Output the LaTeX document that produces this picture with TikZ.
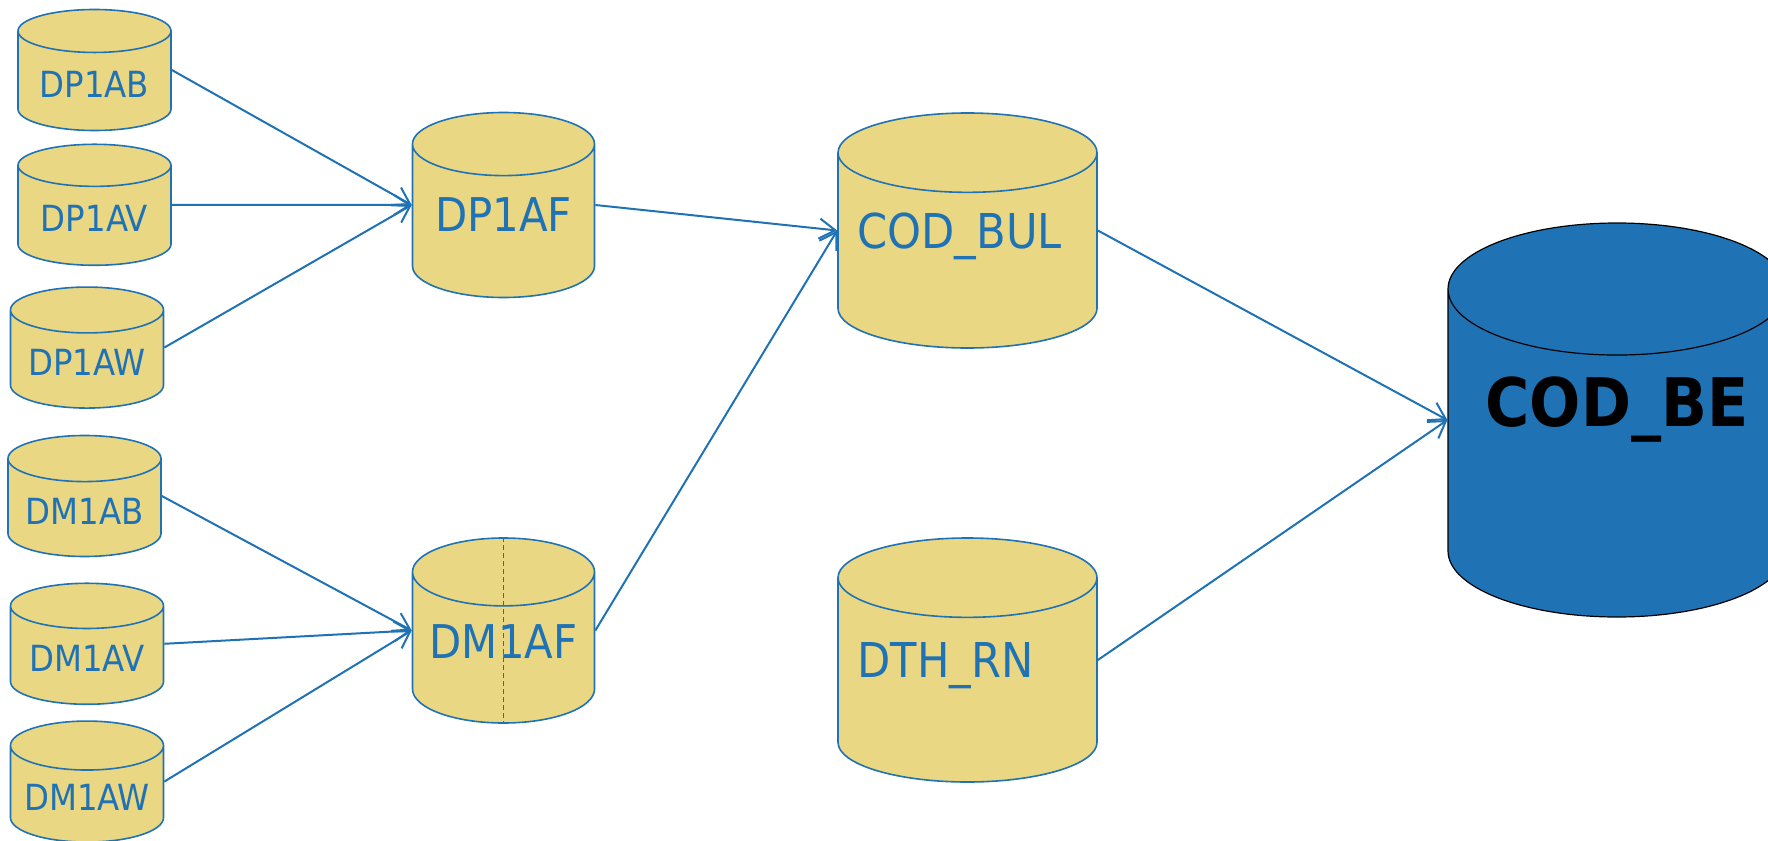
\documentclass[tikz,border=0pt]{standalone}
\usepackage{fontspec}
\setmainfont{DejaVu Sans Condensed}
\usetikzlibrary{arrows.meta, positioning, shapes.geometric}
\definecolor{dbfill}{RGB}{234,215,132}
\definecolor{dbblue}{RGB}{31,114,180}

\begin{document}
\begin{tikzpicture}[x=1pt, y=-1pt, >={Straight Barb[length=16pt,width=20pt]}, node distance=143pt]
  \useasboundingbox (0,0) rectangle (1768,840);

  % Define the style for the tables
  \tikzstyle{table}=[cylinder, shape border rotate=90, draw=dbblue, line width=1.6pt, fill=dbfill, text=dbblue]
  \tikzstyle{small}=[table, minimum width=153pt, minimum height=121pt, aspect=0.37, font=\fontsize{36}{40}\selectfont]
  \tikzstyle{mid}=[table, minimum width=182pt, minimum height=185pt, aspect=0.44, text depth=21pt, font=\fontsize{46.5}{52}\selectfont]
  \tikzstyle{large}=[table, minimum width=259pt, aspect=0.35, text width=220pt, align=left, text depth=50pt, font=\fontsize{48}{54}\selectfont]

  % Source tables
  \node[small, anchor=shape center] (dp1ab) at (94.5,70) {DP1AB};
  \node[small] (dp1av) [below of=dp1ab, yshift=8.5pt] {DP1AV};
  \node[small] (dp1aw) [below of=dp1av, xshift=-7.5pt, yshift=-1pt] {DP1AW};
  \node[small] (dm1ab) [below of=dp1aw, xshift=-2.5pt, yshift=-5.5pt] {DM1AB};
  \node[small] (dm1av) [below of=dm1ab, xshift=2.5pt, yshift=-4.5pt] {DM1AV};
  \node[small] (dm1aw) [below of=dm1av, yshift=4pt] {DM1AW};

  % Merged tables
  \node[mid, anchor=shape center] (dp1af) at (503.5,205) {DP1AF};
  \node[mid, anchor=shape center] (dm1af) at (503.5,630.5) {DM1AF};
  \draw[dbblue, line width=1.8pt, dash pattern=on 5pt off 3pt] (dm1af.top) -- (dm1af.bottom);

  \node[large, minimum height=235pt, anchor=shape center] (codbul) at (967.5,230.5) {COD\_BUL};
  \node[large, minimum height=244pt, anchor=shape center] (dthrn) at (967.5,660) {DTH\_RN};

  % Target table
  \node[cylinder, shape border rotate=90, draw=black, line width=1.2pt, fill=dbblue, minimum width=338pt, minimum height=394pt, aspect=0.49, text depth=117pt, font=\fontsize{67}{74}\selectfont\bfseries, anchor=shape center] (codbe) at (1617,420) {COD\_BE};

  % Define the style for the edges
  \tikzstyle{flow}=[draw=dbblue, line width=2pt, ->]

  % Edges
  \draw[flow] (dp1ab.shape center -| dp1ab.east) -- (dp1af.shape center -| dp1af.west);
  \draw[flow] (dp1av.shape center -| dp1av.east) -- (dp1af.shape center -| dp1af.west);
  \draw[flow] (dp1aw.shape center -| dp1aw.east) -- (dp1af.shape center -| dp1af.west);
  \draw[flow] (dm1ab.shape center -| dm1ab.east) -- (dm1af.shape center -| dm1af.west);
  \draw[flow] (dm1av.shape center -| dm1av.east) -- (dm1af.shape center -| dm1af.west);
  \draw[flow] (dm1aw.shape center -| dm1aw.east) -- (dm1af.shape center -| dm1af.west);
  \draw[flow] (dp1af.shape center -| dp1af.east) -- (codbul.shape center -| codbul.west);
  \draw[flow] (dm1af.shape center -| dm1af.east) -- (codbul.shape center -| codbul.west);
  \draw[flow] (codbul.shape center -| codbul.east) -- (codbe.shape center -| codbe.west);
  \draw[flow] (dthrn.shape center -| dthrn.east) -- (codbe.shape center -| codbe.west);
\end{tikzpicture}
\end{document}
